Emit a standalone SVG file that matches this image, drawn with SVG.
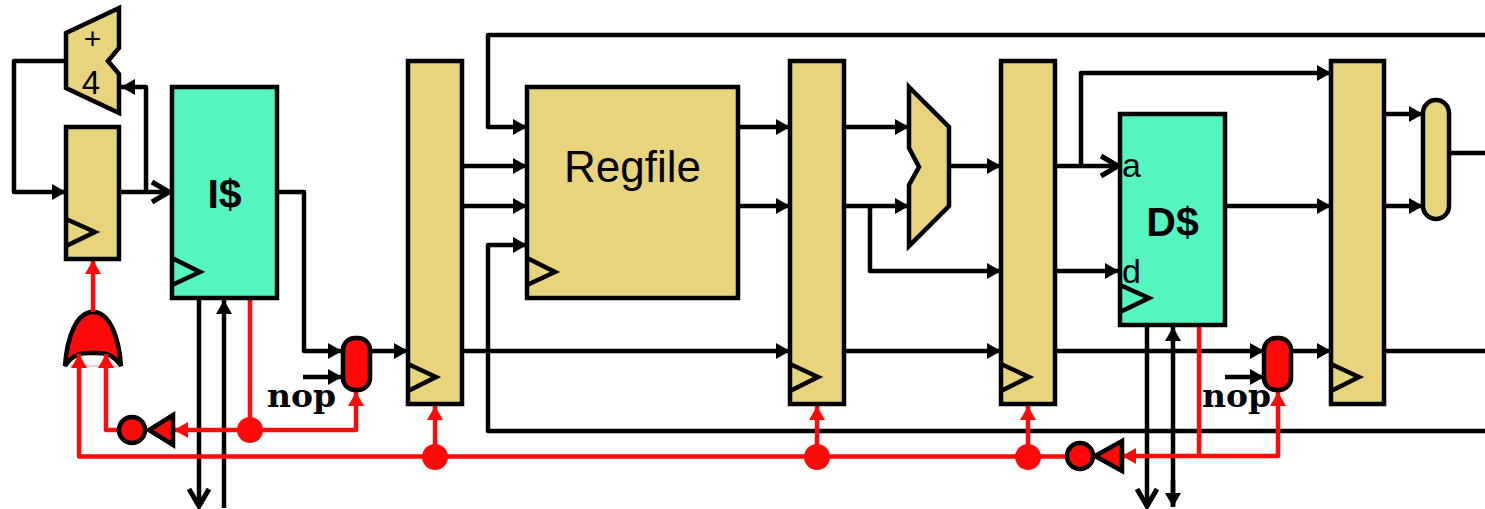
<svg xmlns="http://www.w3.org/2000/svg" width="1485" height="509" viewBox="0 0 1485 509">
<style>
.t{fill:#E8D47C;stroke:#000;stroke-width:4.5;stroke-linejoin:miter}
.g{fill:#55F5C0;stroke:#000;stroke-width:4.5}
.r{fill:#FF0A0A;stroke:#000;stroke-width:4.5}
.ck{fill:none;stroke:#000;stroke-width:4.5}
.b{fill:none;stroke:#000;stroke-width:4.5;stroke-linejoin:round;marker-end:url(#a)}
.o{fill:none;stroke:#000;stroke-width:4.5;stroke-linejoin:round;marker-end:url(#oa)}
.n{fill:none;stroke:#000;stroke-width:4.5;stroke-linejoin:round}
.p{fill:none;stroke:#FF0A0A;stroke-width:4.5;stroke-linejoin:round;marker-end:url(#ra)}
.q{fill:none;stroke:#FF0A0A;stroke-width:4.5;stroke-linejoin:round}
.d{fill:#FF0A0A}
text{font-family:"Liberation Sans",Arial,sans-serif;fill:#000}
text.m{font-family:"DejaVu Serif","Liberation Serif",serif;font-weight:bold;font-size:32px}
</style>
<defs>
<marker id="a" markerUnits="userSpaceOnUse" markerWidth="15" markerHeight="18" refX="14" refY="9" orient="auto"><path d="M0 1L14 9L0 17z" fill="#000"/></marker>
<marker id="ra" markerUnits="userSpaceOnUse" markerWidth="15" markerHeight="18" refX="14" refY="9" orient="auto"><path d="M0 1L14 9L0 17z" fill="#FF0A0A"/></marker>
<marker id="oa" markerUnits="userSpaceOnUse" markerWidth="24" markerHeight="28" refX="20" refY="14" orient="auto"><path d="M2 4L19 14L2 24" fill="none" stroke="#000" stroke-width="5"/></marker>
</defs>
<g id="or-gate"><path class="r" d="M65 366C67 338 76 312 93 312C110 312 119 338 121 366C112 352 102 353 93 353C84 353 74 352 65 366z"/><path d="M70 366H117" fill="none" stroke="#FFC8C8" stroke-width="2"/></g>
<g id="connectors">
<path class="b" d="M66 61H14V192H66"/>
<path class="o" d="M119 192H170"/>
<path class="b" d="M146 192V87H121"/>
<path class="b" d="M277 192H304V351H342"/>
<path class="b" d="M303 377H342"/>
<path class="b" d="M370 351H408"/>
<path class="o" d="M199 298V507"/>
<path class="b" d="M224 508V300"/>
<path class="b" d="M462 166H527"/>
<path class="b" d="M462 206H527"/>
<path class="b" d="M1485 35H488V127H527"/>
<path class="b" d="M1485 431H488V245H527"/>
<path class="b" d="M462 351H790"/>
<path class="b" d="M844 351H1001"/>
<path class="b" d="M1055 351H1264"/>
<path class="b" d="M1291 351H1331"/>
<path class="n" d="M1384 351H1485"/>
<path class="b" d="M738 127H790"/>
<path class="b" d="M738 206H790"/>
<path class="b" d="M844 127H909"/>
<path class="b" d="M844 206H909"/>
<path class="b" d="M870 206V271H1001"/>
<path class="b" d="M949 166H1001"/>
<path class="o" d="M1055 166H1119"/>
<path class="b" d="M1081 166V73H1331"/>
<path class="b" d="M1055 271H1119"/>
<path class="b" d="M1225 206H1331"/>
<path class="b" d="M1384 114H1423"/>
<path class="b" d="M1384 206H1423"/>
<path class="n" d="M1449 153H1485"/>
<path class="o" d="M1147 325V507"/>
<path class="b" d="M1173 506V327"/>
<path class="b" d="M1173 480V507"/>
<path class="b" d="M1225 377H1264"/>
<path class="p" d="M93 312V260"/>
<path class="q" d="M250 298V430"/>
<path class="p" d="M250 430H356V392"/>
<path class="p" d="M250 430H174"/>
<path class="p" d="M120 430H106V354"/>
<path class="p" d="M1067 456.500H79V354"/>
<path class="p" d="M435 457V406"/>
<path class="p" d="M817 457V406"/>
<path class="p" d="M1028 457V406"/>
<path class="q" d="M1199 325V456"/>
<path class="p" d="M1199 456H1278V392"/>
<path class="p" d="M1199 456H1122"/>
<circle class="d" cx="250" cy="430" r="13"/>
<circle class="d" cx="435" cy="457" r="13"/>
<circle class="d" cx="817" cy="457" r="13"/>
<circle class="d" cx="1028" cy="457" r="13"/>
</g>
<g id="adder"><path class="t" d="M66 33L119 8V48L108 61L119 74V113L66 88z"/>
<text x="92.500" y="49" font-size="30" text-anchor="middle">+</text>
<text x="91" y="94" font-size="33" text-anchor="middle">4</text></g>
<g id="pc"><rect class="t" x="66" y="127" width="53" height="132"/><path class="ck" d="M66 219L95 232L66 246"/></g>
<g id="icache"><rect class="g" x="172" y="87" width="105" height="211"/><path class="ck" d="M172 258L200 272L172 285"/>
<text x="224.500" y="208" font-size="41" font-weight="bold" text-anchor="middle">I$</text></g>
<g id="inverter1"><path class="r" d="M173 415V445L149 430z"/><circle class="r" cx="132" cy="430" r="13"/></g>
<g id="mux1"><rect class="r" x="343" y="338" width="27" height="52" rx="12"/><text class="m" x="267" y="407" textLength="69" lengthAdjust="spacingAndGlyphs">nop</text></g>
<g id="ifid"><rect class="t" x="408" y="61" width="54" height="343"/><path class="ck" d="M408 364L436 377L408 391"/></g>
<g id="regfile"><rect class="t" x="527" y="87" width="211" height="211"/><path class="ck" d="M527 258L555 272L527 285"/>
<text x="632.500" y="182" font-size="44" text-anchor="middle">Regfile</text></g>
<g id="idex"><rect class="t" x="790" y="61" width="54" height="343"/><path class="ck" d="M790 364L818 377L790 391"/></g>
<g id="alu"><path class="t" d="M909 87L949 127V206L909 246V185L919 167L909 148z"/></g>
<g id="exmem"><rect class="t" x="1001" y="61" width="54" height="343"/><path class="ck" d="M1001 364L1029 377L1001 391"/></g>
<g id="dcache"><rect class="g" x="1120" y="114" width="105" height="211"/><path class="ck" d="M1120 285L1149 298L1120 312"/>
<text x="1172.500" y="236" font-size="41" font-weight="bold" text-anchor="middle">D$</text>
<text x="1122" y="177" font-size="34">a</text>
<text x="1122" y="283" font-size="34">d</text></g>
<g id="inverter2"><path class="r" d="M1122 441V471L1095 456z"/><circle class="r" cx="1080" cy="456" r="13"/></g>
<g id="mux2"><rect class="r" x="1264" y="338" width="27" height="52" rx="12"/><text class="m" x="1202" y="407" textLength="69" lengthAdjust="spacingAndGlyphs">nop</text></g>
<g id="memwb"><rect class="t" x="1331" y="61" width="53" height="343"/><path class="ck" d="M1331 364L1359 377L1331 391"/></g>
<g id="and-gate"><rect class="t" x="1423" y="100" width="26" height="119" rx="13"/></g>
</svg>
